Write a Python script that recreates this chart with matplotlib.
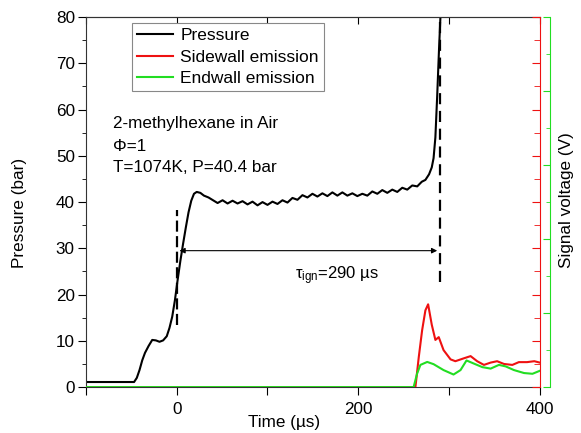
import matplotlib
matplotlib.use('Agg')
from matplotlib import pyplot as plt
from matplotlib.ticker import MultipleLocator, FuncFormatter

plt.rcParams['font.family'] = ['Liberation Sans', 'DejaVu Sans']
plt.rcParams['mathtext.default'] = 'regular'

# Ciśnienie (bar) w funkcji czasu (us)
time_p = [-100, -47, -44, -41, -38, -35, -31, -27, -23, -19, -15, -11, -8, -5, -2,
          1, 4, 7, 10, 13, 16, 19, 22, 26, 30, 35, 40,
          45, 50.5, 56, 61.5, 67, 72.5, 78, 83.5, 89, 94.5, 100, 105.5, 111, 116.5,
          122, 127.5, 133, 138.5, 144, 149.5, 155, 160.5, 166, 171.5, 177, 182.5,
          188, 193.5, 199, 204.5, 210, 215.5, 221, 226.5, 232, 237.5, 243, 248.5,
          254, 259.5, 265, 270, 274, 278, 281, 283, 285, 287, 289, 291]
pressure = [1.1, 1.1, 2.0, 3.7, 5.8, 7.4, 8.9, 10.2, 10.1, 9.8, 10.1, 11.0, 12.8, 15.2, 18.8,
            23.2, 27.3, 31.0, 34.5, 37.8, 40.3, 41.8, 42.2, 42.0, 41.4, 41.0, 40.4,
            39.8, 40.4, 39.7, 40.3, 39.7, 40.2, 39.5, 40.1, 39.3, 40.0, 39.4, 40.1, 39.6, 40.4,
            39.9, 40.9, 40.5, 41.5, 41.0, 41.8, 41.2, 41.9, 41.3, 42.1, 41.4, 42.1,
            41.4, 41.9, 41.3, 41.8, 41.4, 42.3, 41.8, 42.6, 42.0, 42.7, 42.2, 43.1,
            42.7, 43.6, 43.4, 44.4, 44.8, 46.0, 47.5, 49.5, 54.0, 63.0, 73.0, 82.0]

# Emisja z bocznej ściany (V)
time_side = [-100, 263, 266.7, 270.4, 274, 277, 281, 285, 288.7, 294, 301.7, 307, 316,
             323.8, 331, 338.5, 345.9, 353, 360.6, 369.8, 377, 386, 394, 400]
sidewall = [0, 0, 0.65, 1.23, 1.66, 1.79, 1.35, 1.02, 1.08, 0.80, 0.60, 0.56, 0.62,
            0.67, 0.56, 0.48, 0.53, 0.56, 0.50, 0.48, 0.54, 0.54, 0.56, 0.53]

# Emisja z czołowej ściany (V)
time_end = [-100, 261, 264.8, 268.5, 276, 283, 294, 305, 312.7, 319.3, 327, 336.7,
            345.9, 355, 362.4, 371.6, 382.7, 392, 400]
endwall = [0, 0, 0.18, 0.30, 0.34, 0.31, 0.23, 0.17, 0.23, 0.36, 0.32, 0.27,
           0.25, 0.30, 0.28, 0.23, 0.19, 0.18, 0.22]

# Czas zapłonu
ign_start = 0
ign_end = 290
start_marker = [13.4, 38.3]
end_marker = [22.8, 79.5]
arrow_level = 29.5

fig = plt.figure(figsize=(5.81, 4.33), dpi=100)
ax = fig.add_axes([0.148, 0.106, 0.781, 0.8545])

l1, = ax.plot(time_p, pressure, color='black', lw=1.5, label='Pressure')
ax.set_xlim(-100, 400)
ax.set_ylim(0, 80)
ax.xaxis.set_major_locator(MultipleLocator(100))
ax.xaxis.set_major_formatter(FuncFormatter(lambda v, p: f'{v:.0f}' if v % 200 == 0 else ''))
ax.yaxis.set_major_locator(MultipleLocator(10))
ax.yaxis.set_minor_locator(MultipleLocator(5))
ax.tick_params(axis='y', which='major', direction='out', length=6, labelsize=12.3, pad=2)
ax.tick_params(axis='y', which='minor', direction='out', length=3)
ax.tick_params(axis='x', direction='out', length=6, labelsize=12.3, pad=5)
ax.spines['right'].set_visible(False)
for s in ax.spines.values():
    s.set_color('#333333')

top = ax.secondary_xaxis('top')
top.xaxis.set_major_locator(MultipleLocator(100))
top.tick_params(axis='x', direction='in', length=5, labeltop=False)
top.spines['top'].set_color('#555555')

# Oś sygnału bocznego (czerwona)
axr = ax.twinx()
l2, = axr.plot(time_side, sidewall, color='#ee1111', lw=1.5, label='Sidewall emission')
axr.set_ylim(0, 8)
axr.yaxis.set_major_locator(MultipleLocator(1))
axr.yaxis.set_minor_locator(MultipleLocator(0.5))
axr.tick_params(axis='y', which='major', direction='in', length=6, colors='#ee1111', labelright=False)
axr.tick_params(axis='y', which='minor', direction='in', length=4, colors='#ee1111')
axr.spines['right'].set_color('#ee1111')
for side in ['left', 'top', 'bottom']:
    axr.spines[side].set_visible(False)

# Oś sygnału czołowego (zielona)
axg = ax.twinx()
l3, = axg.plot(time_end, endwall, color='#22dd22', lw=1.5, label='Endwall emission')
axg.set_ylim(0, 5)
axg.spines['right'].set_position(('axes', 1.022))
axg.yaxis.set_major_locator(MultipleLocator(1))
axg.yaxis.set_minor_locator(MultipleLocator(0.5))
axg.tick_params(axis='y', which='major', direction='in', length=5, colors='#22dd22', labelright=False)
axg.tick_params(axis='y', which='minor', direction='in', length=3, colors='#22dd22')
axg.spines['right'].set_color('#22dd22')
for side in ['left', 'top', 'bottom']:
    axg.spines[side].set_visible(False)

# Znaczniki czasu zapłonu
ax.vlines(ign_start, *start_marker, colors='black', linestyles=(0, (5, 2)), lw=1.6)
ax.vlines(ign_end, *end_marker, colors='black', linestyles=(0, (5, 3)), lw=1.6)
ax.annotate('', xy=(ign_end - 3, arrow_level), xytext=(ign_start + 3, arrow_level),
            arrowprops=dict(arrowstyle='<|-|>', lw=0.8, color='black',
                            mutation_scale=8, shrinkA=0, shrinkB=0))
ax.text(130, 24, r'$\tau_{ign}$=290 µs', fontsize=12, ha='left', va='center')

ax.text(-70.7, 57.1, '2-methylhexane in Air', fontsize=12.3, ha='left', va='center')
ax.text(-70.7, 52.1, 'Φ=1', fontsize=12.3, ha='left', va='center')
ax.text(-70.7, 47.4, 'T=1074K, P=40.4 bar', fontsize=12.3, ha='left', va='center')

leg = ax.legend(handles=[l1, l2, l3], loc='upper left', bbox_to_anchor=(0.101, 0.984),
                fontsize=12.5, fancybox=False, edgecolor='#888888', framealpha=1,
                handlelength=2.1, handletextpad=0.4, labelspacing=0.35,
                borderpad=0.3, borderaxespad=0)
leg.get_frame().set_linewidth(0.8)

fig.text(20 / 581, 1 - 213 / 433, 'Pressure (bar)', rotation=90, ha='center', va='center', fontsize=12.3)
fig.text(284 / 581, 1 - 422 / 433, 'Time (µs)', ha='center', va='center', fontsize=12.3)
fig.text(567 / 581, 1 - 200 / 433, 'Signal voltage (V)', rotation=90, ha='center', va='center', fontsize=12.3)

fig.savefig('out.png', dpi=100)
